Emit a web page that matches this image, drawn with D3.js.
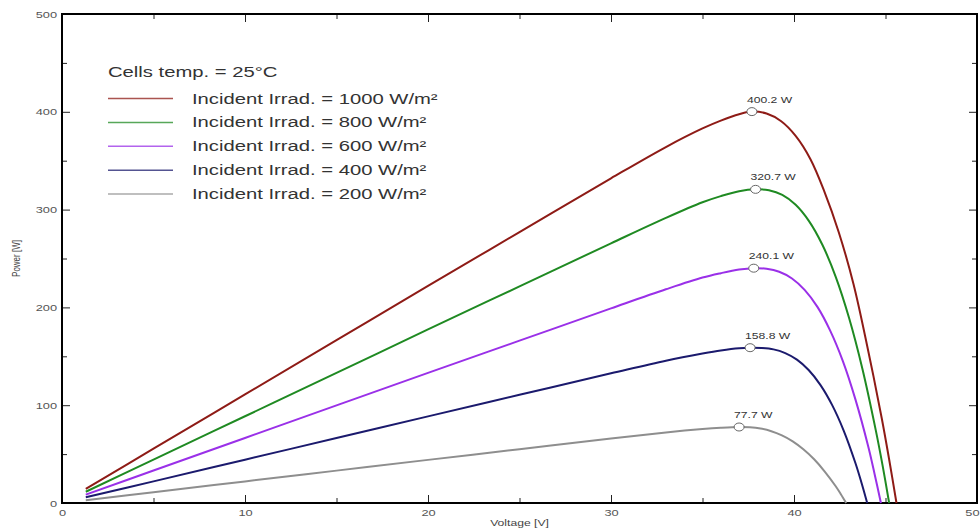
<!DOCTYPE html>
<html>
<head>
<meta charset="utf-8">
<script src="https://cdn.jsdelivr.net/npm/d3@7/dist/d3.min.js"></script>
<style>
  html, body { margin: 0; padding: 0; background: #fff; }
  svg { display: block; }
  text { font-family: "Liberation Sans", Arial, sans-serif; }
</style>
</head>
<body>
<svg id="chart" width="980" height="529"></svg>
<script>
// ---------- DATA ----------
const seriesLabels = [
  "Incident Irrad. = 1000 W/m²",
  "Incident Irrad. = 800 W/m²",
  "Incident Irrad. = 600 W/m²",
  "Incident Irrad. = 400 W/m²",
  "Incident Irrad. = 200 W/m²"
];
const titleText = "Cells temp. = 25°C";

const volt1000 = [1.3, 5, 10, 15, 20, 25, 30, 33, 35, 36, 37, 37.7, 38.5, 39.3, 40.1, 40.9, 41.65, 42.45, 43.25, 44.0, 44.8, 45.2, 45.6];
const pow1000  = [14.4, 55.5, 111, 166.5, 222, 277, 332, 364, 383, 391, 397.5, 400.2, 398.2, 390.3, 375.1, 351.5, 318.9, 276.6, 224.0, 160.6, 86.2, 44.5, 0];

const volt800 = [1.3, 5, 10, 15, 20, 25, 30, 33, 35, 36, 37, 37.9, 38.63, 39.36, 40.09, 40.82, 41.55, 42.28, 43.01, 43.74, 44.47, 44.84, 45.2];
const pow800  = [11.5, 44.4, 88.7, 133, 177.5, 221.5, 265.5, 291.5, 307.5, 313.8, 318.8, 320.7, 319.7, 315.0, 304.9, 288.2, 264.0, 231.3, 189.2, 137.1, 74.3, 38.5, 0];

const volt600 = [1.3, 5, 10, 15, 20, 25, 30, 33, 35, 36, 37, 37.8, 38.5, 39.19, 39.89, 40.58, 41.28, 41.97, 42.67, 43.36, 44.06, 44.4, 44.75];
const pow600  = [8.6, 33.2, 66.5, 99.8, 133, 166, 199, 218.5, 230.5, 235, 238.7, 240.1, 239.5, 236.5, 229.6, 217.9, 200.5, 176.5, 145.1, 105.7, 57.5, 30.0, 0];

const volt400 = [1.3, 5, 10, 15, 20, 25, 30, 33, 35, 36, 37, 37.6, 38.24, 38.88, 39.52, 40.16, 40.8, 41.44, 42.08, 42.72, 43.36, 43.68, 44.0];
const pow400  = [5.8, 22.1, 44.3, 66.4, 88.6, 110.6, 132.6, 145.5, 152.8, 156, 158.3, 158.8, 158.5, 157.1, 153.3, 146.6, 136.0, 120.8, 100.3, 73.8, 40.6, 21.2, 0];

const volt200 = [1.3, 5, 10, 15, 20, 25, 30, 33, 35, 36, 37, 37.59, 38.17, 38.76, 39.34, 39.93, 40.51, 41.1, 41.68, 42.27, 42.56, 42.85];
const pow200  = [2.9, 11, 22.1, 33.1, 44.1, 55, 66, 72.2, 75.6, 76.9, 77.7, 77.4, 76.1, 73.4, 69.1, 63.0, 54.9, 44.7, 32.2, 17.4, 9.0, 0];

const peakVolt = [37.7, 37.9, 37.8, 37.6, 37.0];
const peakPow  = [400.2, 320.7, 240.1, 158.8, 77.7];
const peakLabels = ["400.2 W", "320.7 W", "240.1 W", "158.8 W", "77.7 W"];

const xMajorTicks = [0, 10, 20, 30, 40, 50];
const xMinorTicks = [5, 15, 25, 35, 45];
const yMajorTicks = [0, 100, 200, 300, 400, 500];
const yMinorTicks = [50, 150, 250, 350, 450];

const xTitle = "Voltage [V]";
const yTitle = "Power [W]";

// ---------- STYLE ----------
const colors = ["#8e1b16", "#1f8a22", "#9a30e8", "#1b1a6d", "#8e8e8e"];
const SX = 1.35; // horizontal text stretch seen in the reference

const svg = d3.select("#chart");
const L = 62, R = 977, T = 14, B = 503;

const x = d3.scaleLinear().domain([0, 50]).range([L, R]);
const y = d3.scaleLinear().domain([0, 500]).range([B, T]);

const series = [
  { v: volt1000, p: pow1000 },
  { v: volt800, p: pow800 },
  { v: volt600, p: pow600 },
  { v: volt400, p: pow400 },
  { v: volt200, p: pow200 }
];

// ---------- AXES ----------
function styleAxis(g) {
  g.select(".domain").remove();
  g.selectAll("line").attr("stroke", "#222").attr("stroke-width", 1);
}

const gL = svg.append("g").attr("transform", `translate(${L},0)`)
  .call(d3.axisLeft(y).tickValues(yMajorTicks).tickSizeInner(-8).tickSizeOuter(0).tickPadding(0).tickFormat(d3.format("d")));
styleAxis(gL);
gL.selectAll("text")
  .attr("x", -5 / SX)
  .attr("transform", `scale(${SX},1)`)
  .attr("font-size", 9.5).attr("fill", "#555").attr("font-family", null);

svg.append("g").attr("transform", `translate(${L},0)`)
  .call(d3.axisLeft(y).tickValues(yMinorTicks).tickSizeInner(-5).tickSizeOuter(0).tickFormat(""))
  .call(styleAxis);

svg.append("g").attr("transform", `translate(${R},0)`)
  .call(d3.axisRight(y).tickValues(yMajorTicks).tickSizeInner(-8).tickSizeOuter(0).tickFormat(""))
  .call(styleAxis);
svg.append("g").attr("transform", `translate(${R},0)`)
  .call(d3.axisRight(y).tickValues(yMinorTicks).tickSizeInner(-5).tickSizeOuter(0).tickFormat(""))
  .call(styleAxis);

const gB = svg.append("g").attr("transform", `translate(0,${B})`)
  .call(d3.axisBottom(x).tickValues(xMajorTicks).tickSizeInner(-8).tickSizeOuter(0).tickPadding(6).tickFormat(d3.format("d")));
styleAxis(gB);
gB.selectAll("text")
  .attr("transform", `scale(${SX},1)`)
  .attr("font-size", 9.5).attr("fill", "#555").attr("font-family", null);
gB.selectAll("text").filter(d => d === 50)
  .attr("text-anchor", "end").attr("x", 2 / SX);

svg.append("g").attr("transform", `translate(0,${B})`)
  .call(d3.axisBottom(x).tickValues(xMinorTicks).tickSizeInner(-5).tickSizeOuter(0).tickFormat(""))
  .call(styleAxis);

svg.append("g").attr("transform", `translate(0,${T})`)
  .call(d3.axisTop(x).tickValues(xMajorTicks).tickSizeInner(-8).tickSizeOuter(0).tickFormat(""))
  .call(styleAxis);
svg.append("g").attr("transform", `translate(0,${T})`)
  .call(d3.axisTop(x).tickValues(xMinorTicks).tickSizeInner(-5).tickSizeOuter(0).tickFormat(""))
  .call(styleAxis);

svg.append("rect")
  .attr("x", L).attr("y", T).attr("width", R - L).attr("height", B - T)
  .attr("fill", "none").attr("stroke", "#000").attr("stroke-width", 2);

svg.append("text")
  .attr("transform", `translate(${(L + R) / 2},526) scale(${SX},1)`)
  .attr("text-anchor", "middle").attr("font-size", 9).attr("fill", "#444")
  .text(xTitle);
svg.append("text")
  .attr("transform", `translate(20,${(T + B) / 2}) scale(${SX},1) rotate(-90)`)
  .attr("text-anchor", "middle").attr("font-size", 8).attr("fill", "#444")
  .text(yTitle);

// ---------- CURVES ----------
const line = d3.line()
  .x(d => x(d[0]))
  .y(d => y(d[1]))
  .curve(d3.curveCatmullRom.alpha(0.5));

series.forEach((s, i) => {
  const pts = s.v.map((v, j) => [v, s.p[j]]);
  svg.append("path")
    .datum(pts)
    .attr("d", line)
    .attr("fill", "none")
    .attr("stroke", colors[i])
    .attr("stroke-width", 2)
    .attr("stroke-linejoin", "round");
});

peakVolt.forEach((v, i) => {
  const cx = x(v), cy = y(peakPow[i]);
  svg.append("ellipse")
    .attr("cx", cx).attr("cy", cy).attr("rx", 5).attr("ry", 4)
    .attr("fill", "#fff").attr("stroke", "#666").attr("stroke-width", 1);
  svg.append("text")
    .attr("transform", `translate(${cx - 5},${cy - 9}) scale(${SX},1)`)
    .attr("font-size", 9).attr("fill", "#333")
    .text(peakLabels[i]);
});

// ---------- LEGEND ----------
svg.append("text")
  .attr("transform", `translate(108,77) scale(${SX},1)`)
  .attr("font-size", 15).attr("fill", "#333")
  .text(titleText);

const legendY = d3.scaleLinear().domain([0, 4]).range([98.5, 194]);
seriesLabels.forEach((lab, i) => {
  const ly = legendY(i);
  svg.append("line")
    .attr("x1", 108).attr("x2", 173).attr("y1", ly).attr("y2", ly)
    .attr("stroke", colors[i]).attr("stroke-width", 1.5).attr("opacity", 0.75);
  svg.append("text")
    .attr("transform", `translate(192,${ly + 5}) scale(${SX},1)`)
    .attr("font-size", 15).attr("fill", "#333")
    .text(lab);
});
</script>
</body>
</html>
